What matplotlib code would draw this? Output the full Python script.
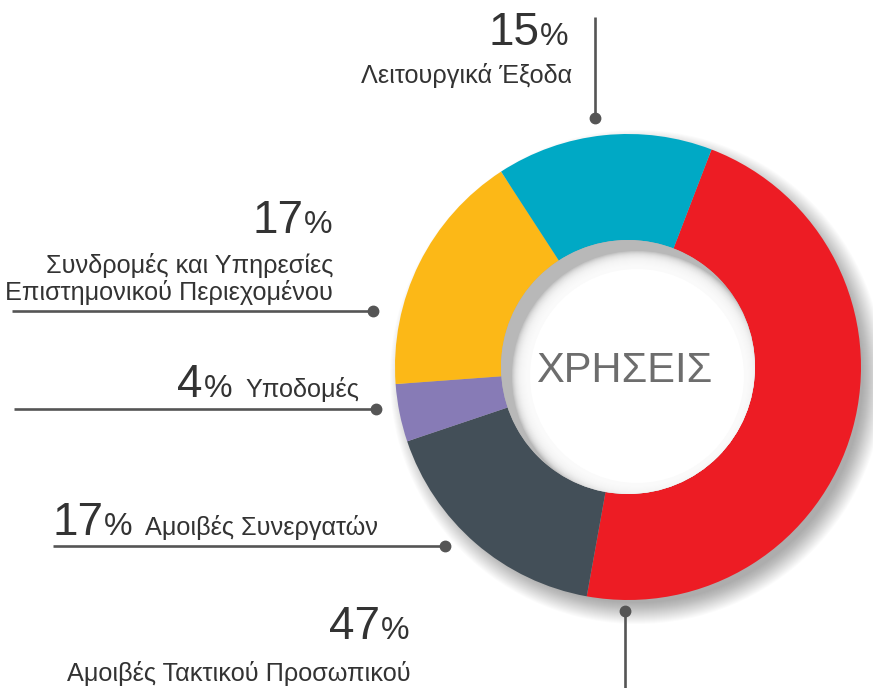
import matplotlib
matplotlib.use('Agg')
import matplotlib.pyplot as plt
from matplotlib.patches import Circle

plt.rcParams['font.family'] = ['Liberation Sans', 'DejaVu Sans']

# Κατηγορίες χρήσεων (κατά τη φορά του ρολογιού, από την κορυφή-δεξιά)
categories = [
    'Αμοιβές Τακτικού Προσωπικού',
    'Αμοιβές Συνεργατών',
    'Υποδομές',
    'Συνδρομές και Υπηρεσίες\nΕπιστημονικού Περιεχομένου',
    'Λειτουργικά Έξοδα',
]
shares = [47, 17, 4, 17, 15]
colors = ['#ED1C24', '#434F58', '#877BB6', '#FCB817', '#00A9C5']
center_title = 'ΧΡΗΣΕΙΣ'

W, H = 873, 688
CX, CY = 628, 367          # κέντρο σε pixel (y προς τα κάτω)
R_OUT, R_IN = 233, 127
TXT = '#333333'
LINE = '#555555'
FS = 18.2


def Y(y):
    return H - y


fig = plt.figure(figsize=(W / 100, H / 100), dpi=100)
ax = fig.add_axes([0, 0, 1, 1])

# σκιά γύρω από το δαχτυλίδι (κάτω δεξιά)
for k in range(22):
    ax.add_patch(Circle((CX + 9, Y(CY + 10)), R_OUT + 14 - k * 1.0,
                        color='black', alpha=0.016, lw=0, zorder=1))

ax.pie(shares, colors=colors, startangle=90 - 21, counterclock=False,
       center=(CX, Y(CY)), radius=R_OUT,
       wedgeprops=dict(width=R_OUT - R_IN, edgecolor='none', zorder=2))

# εσωτερική σκιά στην τρύπα
hole = Circle((CX, Y(CY)), R_IN, transform=ax.transData)
ax.add_patch(Circle((CX, Y(CY)), R_IN, color='#b8b8b8', lw=0, zorder=3))
for j in range(18):
    c = Circle((CX + 9, Y(CY + 9)), R_IN - 2 - j * 1.0, color='white',
               alpha=0.2, lw=0, zorder=4)
    ax.add_patch(c)
    c.set_clip_path(hole)
ax.add_patch(Circle((CX + 9, Y(CY + 9)), R_IN - 20, color='white', lw=0, zorder=4))

ax.text(624, Y(382), center_title, fontsize=30, color='#6d6d6d',
        ha='center', va='baseline', zorder=5)


def big_pct(x_digits_right, y_base, value):
    ax.text(x_digits_right, Y(y_base), f'{value}', fontsize=33, color=TXT,
            ha='right', va='baseline')
    ax.text(x_digits_right + 1, Y(y_base), '%', fontsize=23, color=TXT,
            ha='left', va='baseline')


def leader(xs, ys, dot):
    ax.plot(xs, [Y(v) for v in ys], color=LINE, lw=1.9, solid_capstyle='butt',
            zorder=6)
    ax.plot(dot[0], Y(dot[1]), 'o', color=LINE, ms=7.5, zorder=7)


# Λειτουργικά Έξοδα
big_pct(539, 45, shares[4])
ax.text(572, Y(83), categories[4], fontsize=FS, color=TXT, ha='right', va='baseline')
leader([595, 595], [17, 118], (595, 118))

# Συνδρομές
big_pct(303, 233, shares[3])
l1, l2 = categories[3].split('\n')
ax.text(333, Y(273), l1, fontsize=FS, color=TXT, ha='right', va='baseline')
ax.text(333, Y(300), l2, fontsize=FS, color=TXT, ha='right', va='baseline')
leader([12, 373], [311, 311], (373, 311))

# Υποδομές
big_pct(203, 397, shares[2])
ax.text(245, Y(397), categories[2], fontsize=FS, color=TXT, ha='left', va='baseline')
leader([14, 376], [409, 409], (376, 409))

# Αμοιβές Συνεργατών
big_pct(103, 535, shares[1])
ax.text(145, Y(535), categories[1], fontsize=FS, color=TXT, ha='left', va='baseline')
leader([53, 445], [546, 546], (445, 546))

# Αμοιβές Τακτικού Προσωπικού
big_pct(380, 639, shares[0])
ax.text(411, Y(681), categories[0], fontsize=FS, color=TXT, ha='right', va='baseline')
leader([625, 625], [611, 688], (625, 611))

ax.set_xlim(0, W)
ax.set_ylim(0, H)
ax.set_aspect('equal')
ax.axis('off')

fig.savefig('out.png', dpi=100, facecolor='white')
